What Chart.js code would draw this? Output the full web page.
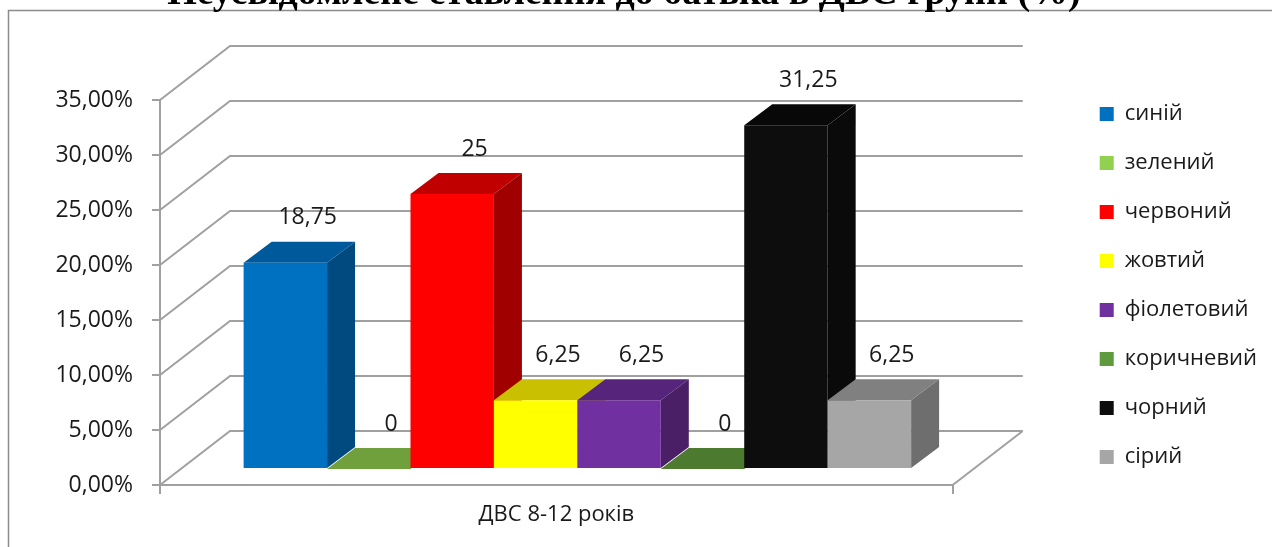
<!DOCTYPE html>
<html>
<head>
<meta charset="utf-8">
<script src="https://cdn.jsdelivr.net/npm/chart.js@4.4.0/dist/chart.umd.min.js"></script>
<style>
  html, body { margin: 0; padding: 0; background: #fff; }
  #wrap { width: 1272px; height: 547px; }
</style>
</head>
<body>
<div id="wrap"><canvas id="bar_chart"></canvas></div>
<script>
var chartTitle = "Неусвідомлене ставлення до батька в ДВС групи (%)";
var categories = ["ДВС 8-12 років"];
var seriesNames = ["синій", "зелений", "червоний", "жовтий", "фіолетовий", "коричневий", "чорний", "сірий"];
var seriesValues = [18.75, 0, 25, 6.25, 6.25, 0, 31.25, 6.25];
var yTicks = [0, 5, 10, 15, 20, 25, 30, 35];

// front / top / side colours of each 3d bar
var frontColors = ["#0070C0", "#92D050", "#FF0000", "#FFFF00", "#7030A0", "#5F9A3C", "#0D0D0D", "#A6A6A6"];
var topColors = ["#00599A", "#70A03C", "#C00000", "#C8C000", "#56247A", "#4C7A2E", "#080808", "#808080"];
var sideColors = ["#004A80", "#5C8A30", "#A00000", "#A8A000", "#4A1F66", "#3E6626", "#0A0A0A", "#6E6E6E"];

var FONT = "'Open Sans', 'DejaVu Sans', sans-serif";
var GRID = "#a0a0a0";
var WALL = { dx: 70, dy: -54 };   // back wall offset
var SHIFT = { dx: 21, dy: -16 };  // bar front plane
var DEPTH = { dx: 28, dy: -21 };  // bar depth

function fmt(v) {
    return String(v).replace('.', ',');
}

var bars3d = {
    id: 'bars3d',
    beforeDraw: function (chart) {
        var ctx = chart.ctx, a = chart.chartArea;
        var y = chart.scales.y;
        ctx.save();
        // frame
        ctx.strokeStyle = "#8c8c8c";
        ctx.lineWidth = 1.5;
        ctx.beginPath();
        ctx.moveTo(8.5, 600); ctx.lineTo(8.5, 10.5); ctx.lineTo(1300, 10.5);
        ctx.stroke();
        // title (mostly above the picture)
        ctx.fillStyle = "#000";
        ctx.font = "bold 38px 'Liberation Serif', 'Times New Roman', serif";
        ctx.textAlign = "center";
        ctx.textBaseline = "alphabetic";
        ctx.fillText(chartTitle, 624, 4);
        // back wall grid
        ctx.strokeStyle = GRID;
        ctx.lineWidth = 2;
        yTicks.forEach(function (v) {
            var py = y.getPixelForValue(v);
            ctx.beginPath();
            ctx.moveTo(a.left, py);
            ctx.lineTo(a.left + WALL.dx, py + WALL.dy);
            ctx.lineTo(a.right + WALL.dx, py + WALL.dy);
            ctx.stroke();
        });
        // floor right edge
        ctx.beginPath();
        ctx.moveTo(a.right, a.bottom);
        ctx.lineTo(a.right + WALL.dx, a.bottom + WALL.dy);
        ctx.stroke();
        ctx.restore();
    },
    beforeDatasetsDraw: function (chart) {
        var ctx = chart.ctx;
        ctx.save();
        chart.data.datasets.forEach(function (ds, i) {
            var el = chart.getDatasetMeta(i).data[0];
            var l = el.x - el.width / 2 + SHIFT.dx;
            var r = el.x + el.width / 2 + SHIFT.dx;
            var t = el.y + SHIFT.dy;
            var b = el.base + SHIFT.dy;
            // top
            ctx.fillStyle = topColors[i];
            ctx.beginPath();
            ctx.moveTo(l, t); ctx.lineTo(r, t);
            ctx.lineTo(r + DEPTH.dx, t + DEPTH.dy); ctx.lineTo(l + DEPTH.dx, t + DEPTH.dy);
            ctx.closePath(); ctx.fill();
            if (b - t > 0.5) {
                // side
                ctx.fillStyle = sideColors[i];
                ctx.beginPath();
                ctx.moveTo(r, t); ctx.lineTo(r + DEPTH.dx, t + DEPTH.dy);
                ctx.lineTo(r + DEPTH.dx, b + DEPTH.dy); ctx.lineTo(r, b);
                ctx.closePath(); ctx.fill();
                // front
                ctx.fillStyle = frontColors[i];
                ctx.fillRect(l, t, r - l, b - t);
            }
        });
        ctx.restore();
        return false;
    },
    afterDraw: function (chart) {
        var ctx = chart.ctx;
        ctx.save();
        ctx.font = "23px " + FONT;
        ctx.fillStyle = "#1a1a1a";
        ctx.textAlign = "center";
        ctx.textBaseline = "middle";
        chart.data.datasets.forEach(function (ds, i) {
            var el = chart.getDatasetMeta(i).data[0];
            var x = el.x + SHIFT.dx + DEPTH.dx * 0.8;
            var yy = el.y + SHIFT.dy + DEPTH.dy - 24;
            ctx.fillText(fmt(ds.data[0]), x, yy);
        });
        ctx.restore();
    }
};

function getChartJs() {
    var datasets = seriesNames.map(function (name, i) {
        return {
            label: name,
            data: [seriesValues[i]],
            backgroundColor: frontColors[i],
            borderWidth: 0
        };
    });
    var config = {
        type: 'bar',
        data: {
            labels: categories,
            datasets: datasets
        },
        options: {
            responsive: true,
            maintainAspectRatio: false,
            animation: false,
            categoryPercentage: 0.842,
            barPercentage: 1,
            layout: { padding: { top: 24, right: 5, bottom: 0, left: 0 } },
            plugins: {
                legend: {
                    position: 'right',
                    align: 'center',
                    labels: {
                        boxWidth: 14,
                        boxHeight: 14,
                        padding: 27,
                        color: '#1a1a1a',
                        font: { family: FONT, size: 22 }
                    }
                },
                tooltip: { enabled: false }
            },
            scales: {
                x: {
                    grid: { display: true, drawOnChartArea: false, tickLength: 9, color: GRID, lineWidth: 2 },
                    border: { display: true, color: GRID, width: 2 },
                    ticks: { color: '#1a1a1a', font: { family: FONT, size: 22 }, padding: 8 },
                    afterFit: function (s) { s.height = 62; }
                },
                xTop: {
                    type: 'category',
                    position: 'top',
                    labels: [''],
                    grid: { display: false },
                    border: { display: false },
                    ticks: { display: false },
                    afterFit: function (s) { s.height = 76; }
                },
                y: {
                    min: 0,
                    max: 35,
                    ticks: {
                        stepSize: 5,
                        padding: 19,
                        color: '#1a1a1a',
                        font: { family: FONT, size: 23 },
                        callback: function (v) { return v.toFixed(2).replace('.', ',') + '%'; }
                    },
                    grid: { display: true, drawOnChartArea: false, tickLength: 8, color: GRID, lineWidth: 2 },
                    border: { display: true, color: GRID, width: 2 },
                    afterFit: function (s) { s.width = 160; }
                },
                yRight: {
                    position: 'right',
                    min: 0,
                    max: 35,
                    grid: { display: false },
                    border: { display: false },
                    ticks: { display: false },
                    afterFit: function (s) { s.width = 120; }
                }
            }
        },
        plugins: [bars3d]
    };
    return config;
}

new Chart(document.getElementById("bar_chart").getContext("2d"), getChartJs());
</script>
</body>
</html>
